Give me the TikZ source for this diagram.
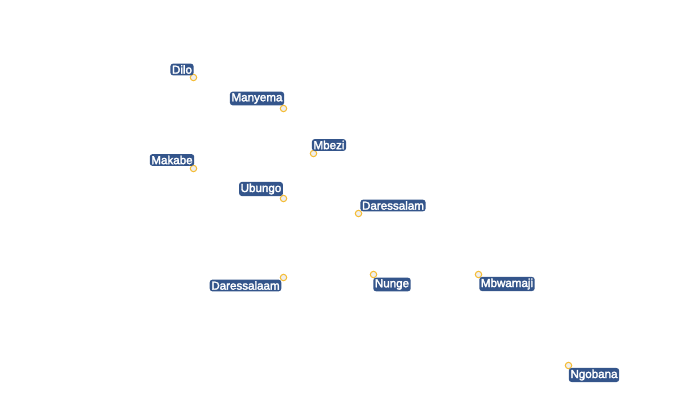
\documentclass[tikz,border=0pt]{standalone}
\usepackage{fontspec}
\usepackage{xcolor}
\setmainfont{Liberation Sans}
\newfontfamily\labelfont{Liberation Sans}[RawFeature={embolden=2.5}]
\definecolor{townblue}{HTML}{34558B}
\definecolor{townring}{HTML}{F5BE3A}
\definecolor{townfill}{HTML}{EFEFEF}
\tikzset{
	town/.style={circle,draw=townring,fill=townfill,line width=0.8pt,minimum size=4.8pt,inner sep=0pt},
	townlabel/.style={fill=townblue,text=white,rounded corners=2pt,inner xsep=1.2pt,inner ysep=1.2pt,font=\labelfont\fontsize{8.7pt}{10pt}\selectfont}
}

\begin{document}
\begin{tikzpicture}[x=0.75pt,y=-0.75pt]
	\useasboundingbox (0,0) rectangle (700,410);
	\node [town] (dilo) at (193.5,77.5) {};
	\node [town] (manyema) at (283.5,108.5) {};
	\node [town] (makabe) at (193.5,168.5) {};
	\node [town] (mbezi) at (313.5,153.5) {};
	\node [town] (ubungo) at (283.5,198.5) {};
	\node [town] (daressalam) at (358.5,213.5) {};
	\node [town] (daressalaam) at (283.5,277.5) {};
	\node [town] (nunge) at (373.5,274.5) {};
	\node [town] (mbwamaji) at (478.5,274.5) {};
	\node [town] (ngobana) at (568.5,365.5) {};
	\node [townlabel] (dilolabel) at (182,69.5) {Dilo};
	\node [townlabel] (manyemalabel) at (257,98.5) {Manyema};
	\node [townlabel] (makabelabel) at (172,160) {Makabe};
	\node [townlabel] (mbezilabel) at (329,145) {Mbezi};
	\node [townlabel] (ubungolabel) at (261,189) {Ubungo};
	\node [townlabel] (daressalamlabel) at (393,205.5) {Daressalam};
	\node [townlabel] (daressalaamlabel) at (245.5,285.5) {Daressalaam};
	\node [townlabel] (nungelabel) at (392,284.5) {Nunge};
	\node [townlabel] (mbwamajilabel) at (507,284) {Mbwamaji};
	\node [townlabel] (ngobanalabel) at (594,375) {Ngobana};
\end{tikzpicture}
\end{document}
